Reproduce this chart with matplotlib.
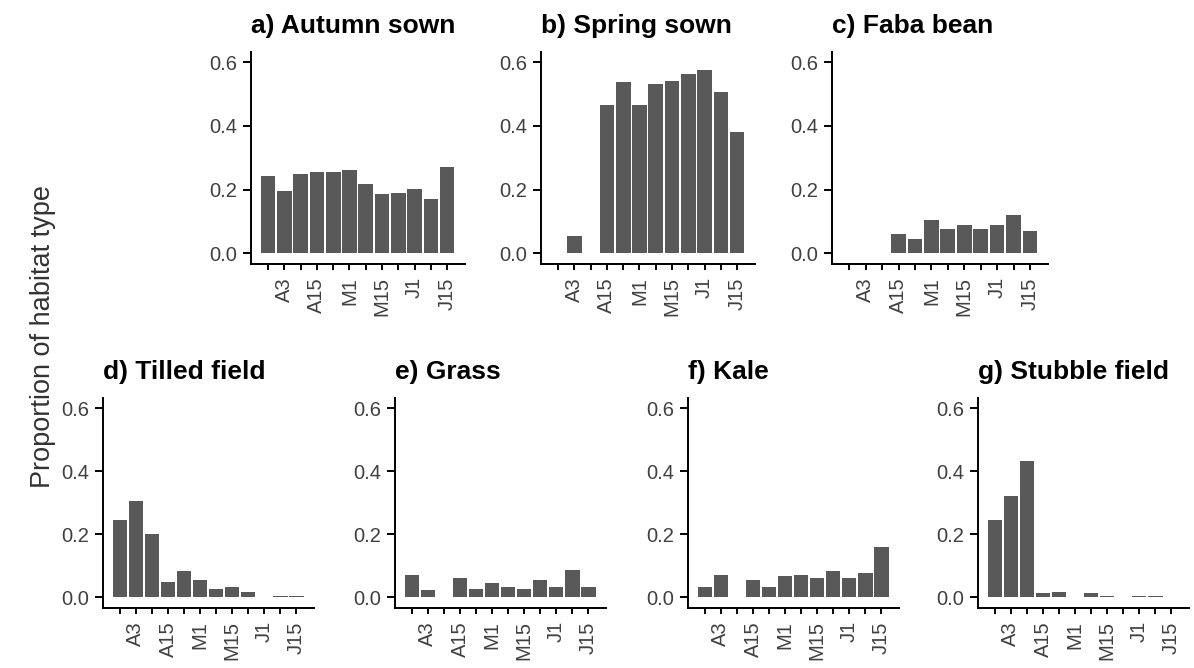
import matplotlib
matplotlib.use("Agg")
import matplotlib.pyplot as plt
import numpy as np

plt.rcParams['font.family'] = ['Liberation Sans', 'DejaVu Sans']

# weekly categories, only every other one labelled
week_labels = ['', 'A3', '', 'A15', '', 'M1', '', 'M15', '', 'J1', '', 'J15']

titles = ['a) Autumn sown', 'b) Spring sown', 'c) Faba bean',
          'd) Tilled field', 'e) Grass', 'f) Kale', 'g) Stubble field']

autumn_sown = [0.244, 0.195, 0.249, 0.254, 0.254, 0.261, 0.217, 0.185, 0.190, 0.201, 0.169, 0.272]
spring_sown = [0.0, 0.054, 0.0, 0.466, 0.537, 0.466, 0.531, 0.542, 0.564, 0.575, 0.505, 0.380]
faba_bean = [0.0, 0.0, 0.0, 0.061, 0.044, 0.103, 0.076, 0.087, 0.076, 0.087, 0.120, 0.071]
tilled_field = [0.245, 0.305, 0.202, 0.050, 0.083, 0.055, 0.027, 0.034, 0.017, 0.0, 0.004, 0.004]
grass = [0.071, 0.023, 0.0, 0.061, 0.027, 0.045, 0.034, 0.027, 0.055, 0.034, 0.087, 0.034]
kale = [0.034, 0.071, 0.0, 0.055, 0.034, 0.066, 0.071, 0.061, 0.083, 0.061, 0.077, 0.159]
stubble_field = [0.245, 0.322, 0.431, 0.012, 0.018, 0.0, 0.012, 0.005, 0.0, 0.004, 0.004, 0.0]

series = [autumn_sown, spring_sown, faba_bean, tilled_field, grass, kale, stubble_field]

W, H = 1194, 668
fig = plt.figure(figsize=(W / 100, H / 100), dpi=100)

# axes boxes in pixels: left, top, width, bottom
boxes = [(251, 52, 214, 264), (541, 52, 214, 264), (832, 52, 216, 264),
         (103, 398, 211, 608), (395, 398, 211, 608), (688, 398, 211, 608), (978, 398, 211, 608)]

x = np.arange(len(week_labels))
for title, vals, (l, t, w, b) in zip(titles, series, boxes):
    ax = fig.add_axes([l / W, 1 - b / H, w / W, (b - t) / H])
    ax.bar(x, vals, width=0.9, color='#595959', linewidth=0)
    ax.set_xlim(-1.05, 12.1)
    ax.set_ylim(-0.034, 0.632)
    ax.set_yticks([0.0, 0.2, 0.4, 0.6])
    ax.set_yticklabels(['0.0', '0.2', '0.4', '0.6'])
    ax.set_xticks(x)
    ax.set_xticklabels(week_labels, rotation=90, ha='center', va='top')
    for s in ['top', 'right']:
        ax.spines[s].set_visible(False)
    for s in ['left', 'bottom']:
        ax.spines[s].set_linewidth(1.4)
    ax.tick_params(axis='y', length=6, width=1.4, pad=4, labelsize=14.5, labelcolor='#404040')
    ax.tick_params(axis='x', length=4.5, width=1.4, pad=5, labelsize=14.5, labelcolor='#404040')
    ax.set_title(title, loc='left', fontsize=19, fontweight='bold', pad=13.5)

fig.text(43 / W, 1 - 337 / H, 'Proportion of habitat type', rotation=90,
         ha='center', va='center', fontsize=19.5, color='#333333')

fig.savefig('out.png', dpi=100)
